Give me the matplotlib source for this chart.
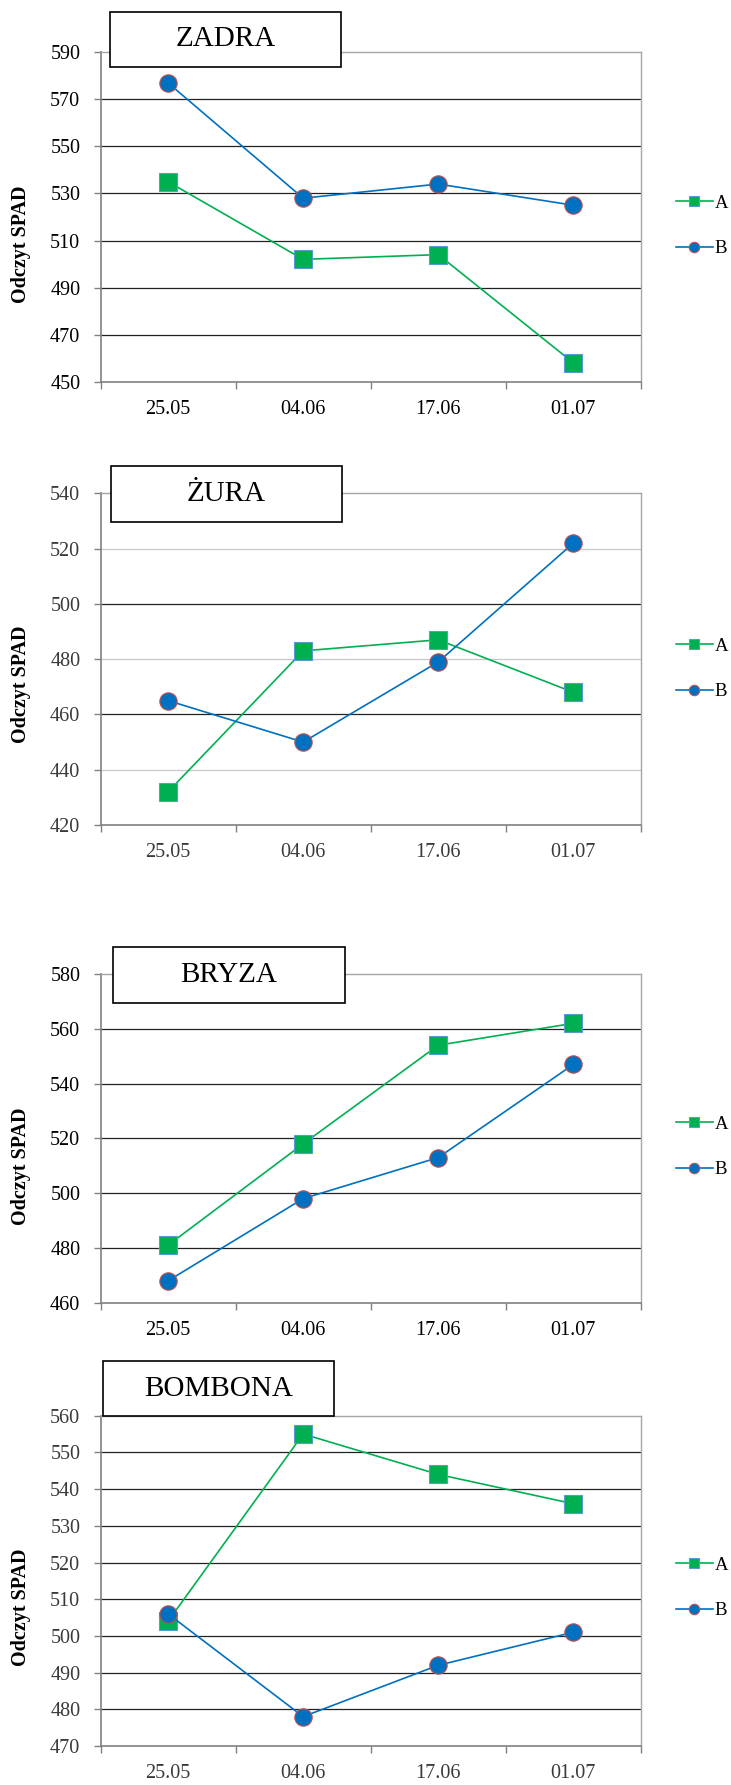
import matplotlib
matplotlib.use('Agg')
import numpy as np
import matplotlib.pyplot as plt
from matplotlib.patches import Rectangle
from matplotlib.ticker import FixedLocator

plt.rcParams['font.family'] = ['Liberation Serif', 'DejaVu Serif']

dates = ['25.05', '04.06', '17.06', '01.07']
series_names = ['A', 'B']

zadra_a = [535, 502, 504, 458]
zadra_b = [577, 528, 534, 525]
zura_a = [432, 483, 487, 468]
zura_b = [465, 450, 479, 522]
bryza_a = [481, 518, 554, 562]
bryza_b = [468, 498, 513, 547]
bombona_a = [504, 555, 544, 536]
bombona_b = [506, 478, 492, 501]

zadra_ticks = list(range(450, 591, 20))
zura_ticks = list(range(420, 541, 20))
bryza_ticks = list(range(460, 581, 20))
bombona_ticks = list(range(470, 561, 10))

W, H = 731, 1785
fig = plt.figure(figsize=(W / 100, H / 100), dpi=100)

green = '#00B050'
blue = '#0070C0'


def frac_rect(x0, y0, x1, y1):
    return [x0 / W, 1 - y1 / H, (x1 - x0) / W, (y1 - y0) / H]


# name, A, B, y ticks, axes px box, title box px, label centre y, legend centre y, soft
panels = [
    ('ZADRA', zadra_a, zadra_b, zadra_ticks, (100.5, 52.3, 641, 381.7),
     (110, 12, 341, 67), 244, 226, False, []),
    ('ŻURA', zura_a, zura_b, zura_ticks, (100.5, 493.3, 641, 825),
     (111, 466, 342, 522), 684, 669, True, [520, 480, 440]),
    ('BRYZA', bryza_a, bryza_b, bryza_ticks, (100.5, 974, 641, 1302.7),
     (113, 947, 345, 1003), 1166, 1147, False, []),
    ('BOMBONA', bombona_a, bombona_b, bombona_ticks, (100.5, 1415.7, 641, 1746),
     (103, 1361, 334, 1416), 1607, 1588, True, []),
]

for name, a, b, ticks, box, tbox, label_y, leg_y, soft, light in panels:
    ax = fig.add_axes(frac_rect(*box))
    x = np.arange(len(dates))
    text_col = '#3a3a3a' if soft else 'black'

    for v in ticks[1:-1]:
        ax.axhline(v, color='#c8c8c8' if v in light else '#222222',
                   lw=0.9, zorder=1)

    la, = ax.plot(x, a, color=green, lw=1.2, marker='s', markersize=12.5,
                  markerfacecolor=green, markeredgecolor='#5B9BD5',
                  markeredgewidth=0.8, zorder=3, label=series_names[0])
    lb, = ax.plot(x, b, color=blue, lw=1.2, marker='o', markersize=12.5,
                  markerfacecolor=blue, markeredgecolor='#C0504D',
                  markeredgewidth=0.8, zorder=4, label=series_names[1])

    ax.set_xlim(-0.5, len(dates) - 0.5)
    ax.set_ylim(ticks[0], ticks[-1])
    ax.set_yticks(ticks)
    ax.set_yticklabels([str(t) for t in ticks], fontsize=14.5, color=text_col)
    ax.set_xticks(x)
    ax.set_xticklabels(dates, fontsize=14.5, color=text_col)
    ax.xaxis.set_minor_locator(FixedLocator(np.arange(-0.5, len(dates), 1.0)))
    ax.tick_params(axis='x', which='major', length=0, pad=13)
    ax.tick_params(axis='x', which='minor', length=5, width=1, color='#808080')
    ax.tick_params(axis='y', length=5, width=1, color='#808080', pad=9.5)

    for side in ['left', 'bottom']:
        ax.spines[side].set_color('#808080')
        ax.spines[side].set_linewidth(1.2)
    for side in ['top', 'right']:
        ax.spines[side].set_color('#a6a6a6')
        ax.spines[side].set_linewidth(1.0)

    fig.text(21 / W, 1 - label_y / H, 'Odczyt SPAD', rotation=90,
             fontsize=14.5, fontweight='bold', ha='center', va='center')

    x0, y0, x1, y1 = tbox
    fig.patches.append(Rectangle((x0 / W, 1 - y1 / H), (x1 - x0) / W,
                                 (y1 - y0) / H, transform=fig.transFigure,
                                 facecolor='white', edgecolor='black',
                                 lw=1.2, zorder=5))
    fig.text((x0 + x1) / 2 / W, 1 - (y0 + y1) / 2 / H, name, fontsize=21,
             ha='center', va='center', zorder=6)

    fig.legend(handles=[la, lb], loc='center left',
               bbox_to_anchor=(676 / W, 1 - leg_y / H),
               bbox_transform=fig.transFigure, frameon=False, borderpad=0,
               borderaxespad=0, handlelength=1.95, handletextpad=0.1,
               labelspacing=1.5, markerscale=0.6, fontsize=13.5)

fig.savefig('out.png', dpi=100, facecolor='white')
